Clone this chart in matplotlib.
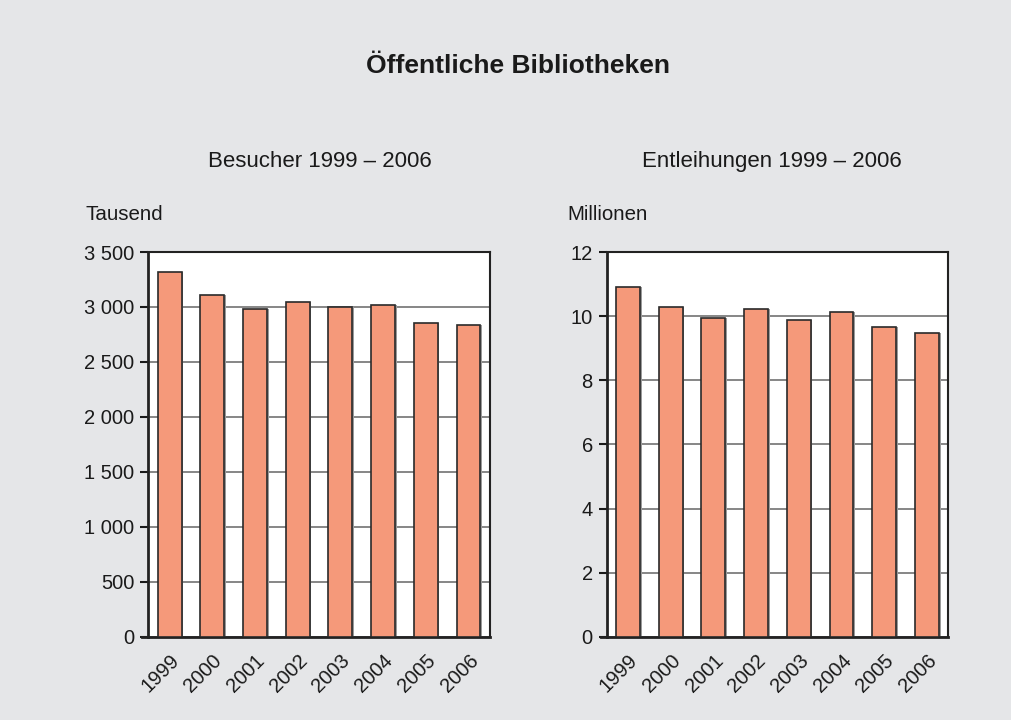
import matplotlib
matplotlib.use("Agg")
import matplotlib.pyplot as plt
from matplotlib.ticker import FuncFormatter

years = ["1999", "2000", "2001", "2002", "2003", "2004", "2005", "2006"]
besucher = [3321, 3106, 2979, 3043, 3003, 3018, 2852, 2834]        # Tausend
entleihungen = [10.90, 10.30, 9.94, 10.21, 9.87, 10.12, 9.65, 9.47]  # Millionen

bg = "#e5e6e8"
bar_col = "#f5997a"

plt.rcParams["font.family"] = ["Liberation Sans", "DejaVu Sans"]

fig = plt.figure(figsize=(10.12, 7.2), dpi=100, facecolor=bg)
fig.text(0.512, 0.908, "Öffentliche Bibliotheken", ha="center", va="center",
         fontsize=19, fontweight="bold", color="#1a1a1a")


def thousands(v, pos):
    return f"{int(v):,}".replace(",", " ")


def panel(rect, values, ymax, step, title, unit, fmt, title_x, unit_x):
    ax = fig.add_axes(rect)
    ax.set_facecolor("white")
    x = range(len(values))
    # shadow behind the bars
    ax.bar([i + 0.04 for i in x], values, width=0.56, color="#9a9a9a",
           zorder=2, linewidth=0)
    ax.bar(x, values, width=0.56, color=bar_col, edgecolor="#2a2a2a",
           linewidth=1.2, zorder=3)
    ax.set_xlim(-0.5, len(values) - 0.5)
    ax.set_ylim(0, ymax)
    ax.set_yticks([i * step for i in range(int(round(ymax / step)) + 1)])
    ax.yaxis.set_major_formatter(FuncFormatter(fmt))
    ax.yaxis.grid(True, color="#666666", linewidth=1.1, zorder=1)
    ax.set_axisbelow(True)
    ax.set_xticks(list(x))
    ax.set_xticklabels(years, rotation=45, ha="right", rotation_mode="anchor")
    ax.tick_params(axis="x", length=0, pad=10, labelsize=14.5, colors="#1a1a1a")
    ax.tick_params(axis="y", length=6, width=1.5, pad=4, labelsize=14.5,
                   colors="#1a1a1a")
    for s in ax.spines.values():
        s.set_color("#222222")
        s.set_linewidth(1.5)
    ax.spines["left"].set_linewidth(2)
    ax.spines["bottom"].set_linewidth(2)
    ax.spines["bottom"].set_bounds(-0.5 - 0.14, len(values) - 0.5)
    fig.text(title_x, 0.776, title, ha="center", va="center", fontsize=16,
             color="#1a1a1a")
    fig.text(unit_x, 0.702, unit, ha="left", va="center", fontsize=14.8,
             color="#1a1a1a")
    return ax


panel([0.1465, 0.1153, 0.3375, 0.5347], besucher, 3500, 500,
      "Besucher 1999 – 2006", "Tausend", thousands, 0.316, 0.084)
panel([0.5995, 0.1153, 0.3375, 0.5347], entleihungen, 12, 2,
      "Entleihungen 1999 – 2006", "Millionen",
      lambda v, p: f"{int(v)}", 0.763, 0.561)

fig.savefig("out.png", dpi=100, facecolor=bg)
